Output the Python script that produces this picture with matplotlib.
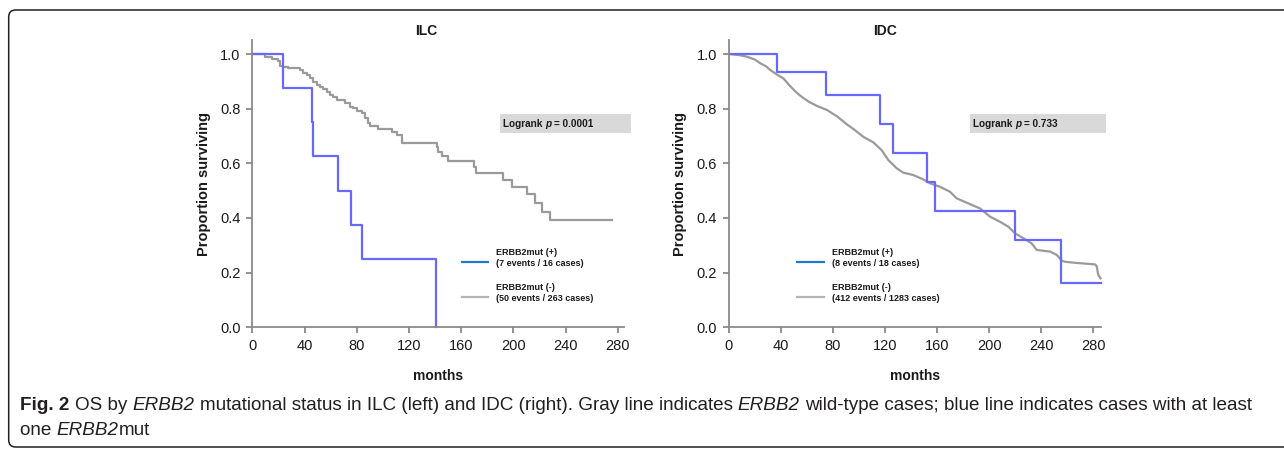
import matplotlib
matplotlib.use("Agg")
import matplotlib.pyplot as plt
from matplotlib import font_manager
from matplotlib.patches import FancyBboxPatch, Rectangle
from matplotlib.transforms import IdentityTransform

plt.rcParams['font.family'] = ['Liberation Sans', 'DejaVu Sans']

# ---- values ----
month_ticks = [0, 40, 80, 120, 160, 200, 240, 280]
surv_ticks = [0.0, 0.2, 0.4, 0.6, 0.8, 1.0]

# ILC, ERBB2mut (+)
ilc_mut_t = [0, 23.5, 46.0, 46.8, 65.7, 75.6, 84.3, 140.8]
ilc_mut_s = [1.0, 0.875, 0.750, 0.625, 0.500, 0.375, 0.250, 0.0]
# ILC, ERBB2mut (-)
ilc_wt_t = [0, 9.7, 14.8, 19.9, 21.2, 23.8, 27.6, 36.5, 39.1, 41.6, 44.2, 46.8,
            49.3, 51.9, 54.4, 57.0, 59.5, 62.1, 64.6, 71.0, 74.9, 77.4, 80.0,
            83.8, 86.4, 88.9, 90.2, 96.7, 106.8, 110.6, 114.5, 141.3, 142.6,
            145.1, 150.2, 169.9, 171.4, 192.3, 198.8, 210.3, 216.6, 221.8, 228.1, 275.4]
ilc_wt_s = [1.0, 0.990, 0.980, 0.976, 0.957, 0.954, 0.948, 0.941, 0.932, 0.924, 0.911, 0.899,
            0.887, 0.880, 0.872, 0.862, 0.849, 0.843, 0.832, 0.820, 0.807, 0.801, 0.793,
            0.783, 0.765, 0.746, 0.738, 0.724, 0.716, 0.704, 0.675, 0.661, 0.643,
            0.627, 0.610, 0.585, 0.563, 0.539, 0.512, 0.488, 0.456, 0.423, 0.394, 0.394]

# IDC, ERBB2mut (+)
idc_mut_t = [0, 36.9, 74.7, 116.0, 126.0, 152.0, 158.4, 220.0, 255.2, 285.6]
idc_mut_s = [1.0, 0.935, 0.850, 0.744, 0.637, 0.530, 0.426, 0.320, 0.161, 0.161]
# IDC, ERBB2mut (-)  (dense curve, vertices read along it)
idc_wt_t = [0, 8, 14, 20, 24.3, 29, 32, 37, 42, 47.3, 52.5, 57, 62, 67.8, 75.5, 83.2,
            90.9, 96, 103.4, 111, 117.5, 122.6, 129, 134, 141.8, 149.5, 154.6, 162.3,
            170, 175, 182.8, 188, 193, 200.7, 208.4, 214.8, 219.9, 226.3, 232.7,
            236.6, 246.8, 251.9, 255.8, 258, 266, 281.5, 282.6, 283.9, 285.6]
idc_wt_s = [1.0, 0.996, 0.99, 0.98, 0.966, 0.954, 0.941, 0.925, 0.911, 0.882, 0.857, 0.840,
            0.824, 0.810, 0.795, 0.772, 0.742, 0.725, 0.697, 0.677, 0.648, 0.612, 0.582,
            0.566, 0.557, 0.541, 0.527, 0.514, 0.496, 0.472, 0.456, 0.445, 0.435, 0.405,
            0.386, 0.368, 0.344, 0.326, 0.307, 0.283, 0.277, 0.265, 0.244, 0.240, 0.236,
            0.230, 0.224, 0.191, 0.179]

titles = ['ILC', 'IDC']
pvalues = ['0.0001', '0.733']
legend_mut = ['(7 events / 16 cases)', '(8 events / 18 cases)']
legend_wt = ['(50 events / 263 cases)', '(412 events / 1283 cases)']

BLUE = '#6868ff'
GRAY = '#9a9a9a'
AXC = '#8a8a8a'
TXT = '#1a1a1a'

W, H = 1284, 449
fig = plt.figure(figsize=(W / 100, H / 100), dpi=100)
renderer = fig.canvas.get_renderer()


def text_width(s, **kw):
    t1 = fig.text(0, 0, '|' + s + '|', **kw)
    t2 = fig.text(0, 0, '||', **kw)
    w = t1.get_window_extent(renderer).width - t2.get_window_extent(renderer).width
    t1.remove()
    t2.remove()
    return w


def draw_runs(x, y, runs, **kw):
    # x, y in pixels; runs of (text, extra font props)
    for s, extra in runs:
        props = dict(kw)
        props.update(extra)
        lead = len(s) - len(s.lstrip(' '))
        if lead:
            x += lead * text_width(' ', **props)
        fig.text(x, y, s.lstrip(' '), transform=IdentityTransform(),
                 ha='left', va='baseline', **props)
        x += text_width(s.lstrip(' '), **props)
    return x


def make_axes(x0, px_per_month, xmax):
    y0, px_per_unit = 327.3, 273.3
    w = xmax * px_per_month
    h = 1.05 * px_per_unit
    ax = fig.add_axes([x0 / W, (H - y0) / H, w / W, h / H])
    ax.set_xlim(0, xmax)
    ax.set_ylim(0, 1.05)
    ax.patch.set_visible(False)
    for s in ['top', 'right']:
        ax.spines[s].set_visible(False)
    for s in ['left', 'bottom']:
        ax.spines[s].set_color(AXC)
        ax.spines[s].set_linewidth(1.3)
    ax.set_xticks(month_ticks)
    ax.set_yticks(surv_ticks)
    ax.set_yticklabels([f'{v:.1f}' for v in surv_ticks])
    ax.tick_params(direction='out', length=4.5, width=1.3, color=AXC,
                   labelsize=10.5, labelcolor=TXT, pad=4)
    return ax


ax1 = make_axes(252.3, 1.305, 285)
ax2 = make_axes(728.7, 1.302, 286)

ax1.step(ilc_wt_t, ilc_wt_s, where='post', color=GRAY, lw=1.6, clip_on=False)
ax1.step(ilc_mut_t, ilc_mut_s, where='post', color=BLUE, lw=1.6, clip_on=False)
ax2.plot(idc_wt_t, idc_wt_s, color=GRAY, lw=1.6, clip_on=False)
ax2.step(idc_mut_t, idc_mut_s, where='post', color=BLUE, lw=1.6, clip_on=False)

title_x = [133, 120]
box_x = [189.8, 185.3]
leg_line_x = [(160.5, 180.4), (52.5, 73.0)]
leg_text_x = [187.1, 79.1]
ylab_x = [-0.110, -0.113]

for i, ax in enumerate([ax1, ax2]):
    ax.text(title_x[i], 1.084, titles[i], ha='center', va='center',
            fontsize=10, fontweight='bold', color=TXT)
    ax.set_xlabel('months', fontsize=10, fontweight='bold', color=TXT)
    ax.xaxis.set_label_coords(0.5, -0.145)
    ax.set_ylabel('Proportion surviving', fontsize=10.5, fontweight='bold', color=TXT)
    ax.yaxis.set_label_coords(ylab_x[i], 0.5)

    # logrank box
    ax.add_patch(Rectangle((box_x[i], 0.712), 290 - box_x[i], 0.067,
                           facecolor='#d9d9d9', edgecolor='none', clip_on=False))
    px, py = ax.transData.transform((box_x[i] + 2.2, 0.745))
    font = dict(fontsize=7.2, fontweight='bold', color=TXT)
    draw_runs(px, py - 3, [('Logrank ', {}), ('p', {'fontstyle': 'italic'}),
                           (' = ' + pvalues[i], {})], **font)

    # legend
    lx0, lx1 = leg_line_x[i]
    ax.plot([lx0, lx1], [0.238, 0.238], color='#1f78d0', lw=1.6, clip_on=False)
    ax.plot([lx0, lx1], [0.110, 0.110], color='#b5b5b5', lw=1.6, clip_on=False)
    lfont = dict(fontsize=6.5, fontweight='bold', color=TXT, ha='left', va='center')
    ax.text(leg_text_x[i], 0.274, 'ERBB2mut (+)', **lfont)
    ax.text(leg_text_x[i], 0.234, legend_mut[i], **lfont)
    ax.text(leg_text_x[i], 0.146, 'ERBB2mut (-)', **lfont)
    ax.text(leg_text_x[i], 0.106, legend_wt[i], **lfont)

# rounded frame around the figure
fig.add_artist(FancyBboxPatch((8.7, 2), 1400, 437,
                              boxstyle='round,pad=0,rounding_size=7',
                              transform=IdentityTransform(), fill=False,
                              edgecolor='#231f20', lw=1.1))

# caption
names = {f.name for f in font_manager.fontManager.ttflist}
cap_family = 'Liberation Sans Narrow' if 'Liberation Sans Narrow' in names else 'Liberation Sans'
line1 = [('Fig. 2', {'fontweight': 'bold'}), (' OS by ', {}), ('ERBB2', {'fontstyle': 'italic'}),
         (' mutational status in ILC (left) and IDC (right). Gray line indicates ', {}),
         ('ERBB2', {'fontstyle': 'italic'}),
         (' wild-type cases; blue line indicates cases with at least', {})]
line2 = [('one ', {}), ('ERBB2', {'fontstyle': 'italic'}), ('mut', {})]

base = dict(fontsize=10, family=cap_family, color='#231f20')
w_base = sum(text_width(s, **{**base, **e}) for s, e in line1)
cap_size = 10 * 1242 / w_base
cap = dict(fontsize=cap_size, family=cap_family, color='#231f20')
draw_runs(20, H - 410, line1, **cap)
draw_runs(20, H - 435, line2, **cap)

fig.savefig('out.png', dpi=100)
